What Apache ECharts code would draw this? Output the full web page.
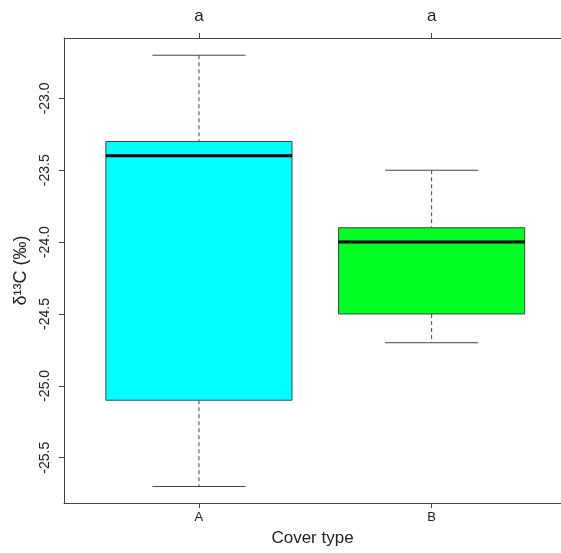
<!DOCTYPE html>
<html>
<head>
<meta charset="utf-8">
<script src="https://cdn.jsdelivr.net/npm/echarts@6/dist/echarts.min.js"></script>
<style>
  html, body { margin: 0; padding: 0; background: #fff; }
  #chart { width: 561px; height: 553px; }
</style>
</head>
<body>
<div id="chart"></div>
<script>
// box statistics
const categories = ['A', 'B'];
const lowerWhisker = [-25.7, -24.7];
const q1 = [-25.1, -24.5];
const median = [-23.4, -24.0];
const q3 = [-23.3, -23.9];
const upperWhisker = [-22.7, -23.5];
const groupLetters = ['a', 'a'];
const yTicks = [-23.0, -23.5, -24.0, -24.5, -25.0, -25.5];

const fillColors = ['#00FFFF', '#00FF22'];
const frameColor = '#444';
const font = 'Liberation Sans, Arial, sans-serif';

const chart = echarts.init(document.getElementById('chart'));

const boxData = categories.map((c, i) => [i + 1, lowerWhisker[i], q1[i], median[i], q3[i], upperWhisker[i]]);
const positions = categories.map((c, i) => i + 1);

chart.setOption({
  animation: false,
  grid: {
    left: 64,
    top: 38,
    right: 0,
    bottom: 50,
    containLabel: false,
    outerBoundsMode: 'none',
  },
  xAxis: [
    {
      type: 'value',
      position: 'bottom',
      min: 0.42,
      max: 2.556,
      name: 'Cover type',
      nameLocation: 'middle',
      nameGap: 27,
      nameTextStyle: { fontFamily: font, fontSize: 17, color: '#222' },
      axisLine: { show: true, lineStyle: { color: frameColor, width: 1 } },
      axisTick: { show: true, customValues: positions, length: 5, lineStyle: { color: frameColor } },
      axisLabel: {
        customValues: positions,
        formatter: (v) => categories[Math.round(v) - 1],
        fontFamily: font,
        fontSize: 13,
        color: '#222',
        margin: 8,
      },
      splitLine: { show: false },
    },
    {
      type: 'value',
      position: 'top',
      min: 0.42,
      max: 2.556,
      axisLine: { show: true, lineStyle: { color: frameColor, width: 1 } },
      axisTick: { show: true, customValues: positions, length: 5, lineStyle: { color: frameColor } },
      axisLabel: {
        customValues: positions,
        formatter: (v) => groupLetters[Math.round(v) - 1],
        fontFamily: font,
        fontSize: 17,
        color: '#222',
        margin: 13,
      },
      splitLine: { show: false },
    },
  ],
  yAxis: {
    type: 'value',
    min: -25.815,
    max: -22.58,
    name: 'δ¹³C (‰)',
    nameLocation: 'middle',
    nameGap: 32,
    nameRotate: 90,
    nameTextStyle: { fontFamily: font, fontSize: 18, color: '#222' },
    axisLine: { show: true, lineStyle: { color: frameColor, width: 1 } },
    axisTick: { show: true, customValues: yTicks, length: 5, lineStyle: { color: frameColor } },
    axisLabel: {
      customValues: yTicks,
      rotate: 90,
      formatter: (v) => v.toFixed(1),
      fontFamily: font,
      fontSize: 14,
      color: '#222',
      margin: 12,
    },
    splitLine: { show: false },
  },
  series: [{
    type: 'custom',
    xAxisIndex: 0,
    data: boxData,
    renderItem: (params, api) => {
      const x = api.value(0);
      const lo = api.value(1), b1 = api.value(2), med = api.value(3), b3 = api.value(4), hi = api.value(5);
      const half = 0.4, cap = 0.2;
      const pLeftTop = api.coord([x - half, b3]);
      const pRightBot = api.coord([x + half, b1]);
      const pMidL = api.coord([x - half, med]);
      const pMidR = api.coord([x + half, med]);
      const pHi = api.coord([x, hi]);
      const pLo = api.coord([x, lo]);
      const pB3 = api.coord([x, b3]);
      const pB1 = api.coord([x, b1]);
      const capHiL = api.coord([x - cap, hi]);
      const capHiR = api.coord([x + cap, hi]);
      const capLoL = api.coord([x - cap, lo]);
      const capLoR = api.coord([x + cap, lo]);
      const lineStyle = { stroke: frameColor, lineWidth: 1 };
      const dashStyle = { stroke: frameColor, lineWidth: 1, lineDash: [4, 3] };
      return {
        type: 'group',
        children: [
          { type: 'line', shape: { x1: pHi[0], y1: pHi[1], x2: pB3[0], y2: pB3[1] }, style: dashStyle },
          { type: 'line', shape: { x1: pB1[0], y1: pB1[1], x2: pLo[0], y2: pLo[1] }, style: dashStyle },
          { type: 'line', shape: { x1: capHiL[0], y1: capHiL[1], x2: capHiR[0], y2: capHiR[1] }, style: lineStyle },
          { type: 'line', shape: { x1: capLoL[0], y1: capLoL[1], x2: capLoR[0], y2: capLoR[1] }, style: lineStyle },
          {
            type: 'rect',
            shape: {
              x: pLeftTop[0], y: pLeftTop[1],
              width: pRightBot[0] - pLeftTop[0], height: pRightBot[1] - pLeftTop[1],
            },
            style: { fill: fillColors[params.dataIndex], stroke: frameColor, lineWidth: 1 },
          },
          { type: 'line', shape: { x1: pMidL[0], y1: pMidL[1], x2: pMidR[0], y2: pMidR[1] }, style: { stroke: '#000', lineWidth: 3 } },
        ],
      };
    },
  }],
});
</script>
</body>
</html>
